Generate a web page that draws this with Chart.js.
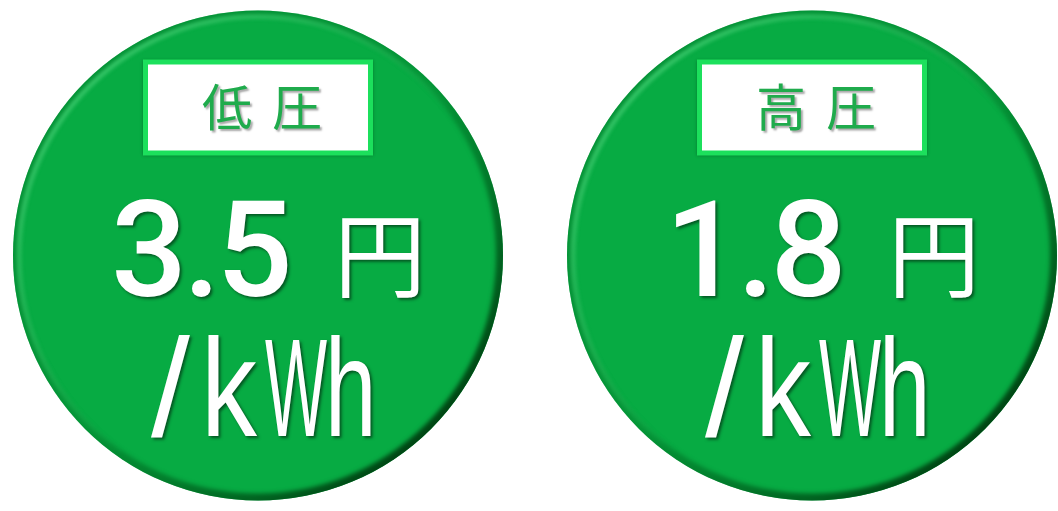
<!DOCTYPE html>
<html lang="ja">
<head>
<meta charset="utf-8">
<title>低圧・高圧 単価</title>
<script src="https://cdn.jsdelivr.net/npm/chart.js@4/dist/chart.umd.min.js"></script>
<style>
  html, body { margin: 0; padding: 0; background: #fff; overflow: hidden; }
  #wrap { width: 1058px; height: 511px; }
</style>
</head>
<body>
<div id="wrap"><canvas id="myChart" width="1058" height="511"></canvas></div>
<script>
var categories = ['低圧', '高圧'];   // 区分
var prices = [3.5, 1.8];             // 単価
var unitYen = '円';
var unitPer = '/kWh';
var rowLabels = ['円/kWh'];

var green = '#07ab43';

// /kWh の字ごとの位置と横幅の縮め具合
var perX = [-107, -57, 7, 67];
var perScale = [1.0, 0.8, 0.47, 0.66];

// 丸の縁取り・ラベル・文字を描くプラグイン
var badgePlugin = {
  id: 'badges',
  afterDatasetsDraw: function(chart) {
    var ctx = chart.ctx;
    var meta = chart.getDatasetMeta(0);
    meta.data.forEach(function(pt, i) {
      var cx = pt.x, cy = pt.y, r = pt.options.radius;

      // 縁のかげ
      ctx.save();
      ctx.beginPath();
      ctx.arc(cx, cy, r, 0, Math.PI * 2);
      ctx.clip();
      ctx.filter = 'blur(2px)';
      var g = ctx.createLinearGradient(cx - r * 0.7, cy - r * 0.7, cx + r * 0.7, cy + r * 0.7);
      g.addColorStop(0, 'rgba(0,120,40,0.5)');
      g.addColorStop(0.5, 'rgba(0,110,35,0.35)');
      g.addColorStop(1, 'rgba(0,70,20,1)');
      ctx.lineWidth = 14;
      ctx.strokeStyle = g;
      ctx.beginPath();
      ctx.arc(cx, cy, r, 0, Math.PI * 2);
      ctx.stroke();
      var h = ctx.createLinearGradient(cx - r * 0.7, cy - r * 0.7, cx + r * 0.7, cy + r * 0.7);
      h.addColorStop(0, 'rgba(90,235,140,0.9)');
      h.addColorStop(0.6, 'rgba(90,235,140,0)');
      ctx.lineWidth = 3;
      ctx.strokeStyle = h;
      ctx.beginPath();
      ctx.arc(cx, cy, r - 6, 0, Math.PI * 2);
      ctx.stroke();
      ctx.restore();

      // ラベルの箱
      ctx.save();
      var bw = 230, bh = 96, bx = cx - bw / 2, by = cy - 196;
      ctx.shadowColor = 'rgba(0,60,20,0.45)';
      ctx.shadowBlur = 3;
      ctx.fillStyle = '#1ce05c';
      ctx.fillRect(bx, by, bw, bh);
      ctx.shadowColor = 'transparent';
      ctx.fillStyle = '#ffffff';
      ctx.fillRect(bx + 5, by + 5, bw - 10, bh - 10);
      ctx.restore();

      ctx.save();
      ctx.font = '400 50px "Noto Sans CJK JP"';
      ctx.fillStyle = '#1fab4c';
      ctx.textAlign = 'center';
      ctx.textBaseline = 'middle';
      ctx.shadowColor = 'rgba(0,0,0,0.35)';
      ctx.shadowOffsetX = 2;
      ctx.shadowOffsetY = 2;
      ctx.shadowBlur = 2;
      var chars = categories[i].split('');
      chars.forEach(function(c, k) {
        ctx.fillText(c, cx + 4 + (k - (chars.length - 1) / 2) * 70, cy - 149);
      });
      ctx.restore();

      // 単価
      ctx.save();
      ctx.fillStyle = '#ffffff';
      ctx.shadowColor = 'rgba(0,0,0,0.5)';
      ctx.shadowOffsetX = 2;
      ctx.shadowOffsetY = 2;
      ctx.shadowBlur = 3;
      ctx.textBaseline = 'alphabetic';
      ctx.textAlign = 'left';
      ctx.font = '500 134px Roboto';
      ctx.letterSpacing = '-4px';
      ctx.fillText(prices[i].toFixed(1), cx - 147, cy + 40);
      ctx.letterSpacing = '0px';
      ctx.font = '92px "Noto Sans CJK JP"';
      ctx.fillText(unitYen, cx + 76, cy + 34);

      ctx.font = '140px "Liberation Sans"';
      unitPer.split('').forEach(function(c, k) {
        ctx.save();
        ctx.translate(cx + perX[k], cy + 180);
        ctx.scale(perScale[k], 1);
        ctx.fillText(c, 0, 0);
        ctx.restore();
      });
      ctx.restore();
    });
  }
};

var ctx = document.getElementById('myChart').getContext('2d');
var myChart = new Chart(ctx, {
  type: 'scatter',
  data: {
    datasets: [{
      label: '単価',
      data: categories.map(function(c) { return { x: c, y: rowLabels[0] }; }),
      backgroundColor: green,
      borderWidth: 0,
      pointRadius: 245,
      pointHoverRadius: 245,
      clip: false
    }]
  },
  options: {
    responsive: false,
    animation: false,
    events: [],
    layout: { padding: { left: 258, right: 246, top: 3, bottom: 0 } },
    scales: {
      x: { type: 'category', labels: categories, offset: false, display: false },
      y: { type: 'category', labels: rowLabels, offset: true, display: false }
    },
    plugins: {
      legend: { display: false },
      tooltip: { enabled: false }
    }
  },
  plugins: [badgePlugin]
});
</script>
</body>
</html>
